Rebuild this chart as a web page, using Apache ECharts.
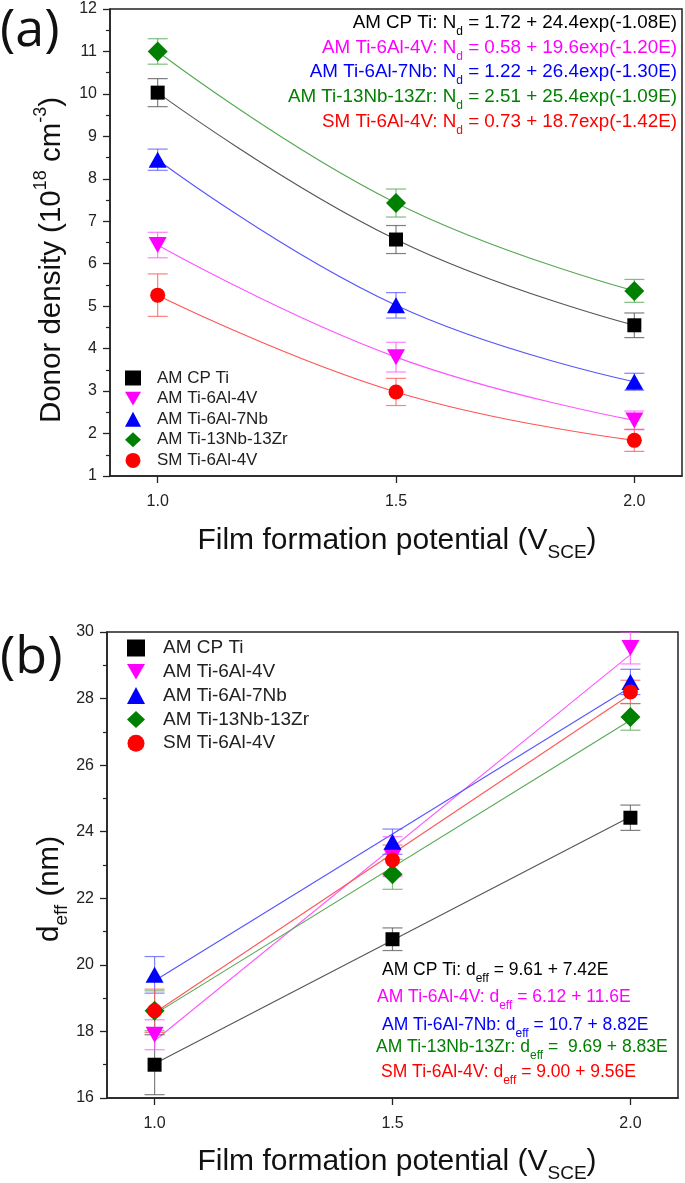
<!DOCTYPE html>
<html>
<head>
<meta charset="utf-8">
<script src="https://cdn.jsdelivr.net/npm/echarts@6/dist/echarts.min.js"></script>
<style>
html,body{margin:0;padding:0;background:#fff;}
#chart{width:685px;height:1183px;}
</style>
</head>
<body>
<div id="chart"></div>
<script>
// ---------- data ----------
const potentials = [1.0, 1.5, 2.0];
const xTickValues = [1.0, 1.5, 2.0];
const seriesNames = ['AM CP Ti', 'AM Ti-6Al-4V', 'AM Ti-6Al-7Nb', 'AM Ti-13Nb-13Zr', 'SM Ti-6Al-4V'];

// (a) donor density (10^18 cm^-3)
const donorCP   = [10.03, 6.57, 4.55];
const donor4V   = [6.44, 3.80, 2.31];
const donor7Nb  = [8.45, 5.02, 3.22];
const donorZr   = [11.00, 7.43, 5.36];
const donorSM   = [5.26, 2.98, 1.84];
const donorErrCP  = [0.33, 0.33, 0.29];
const donorErr4V  = [0.30, 0.35, 0.22];
const donorErr7Nb = [0.25, 0.30, 0.20];
const donorErrZr  = [0.30, 0.33, 0.27];
const donorErrSM  = [0.50, 0.32, 0.26];
const donorTicks = [1, 12];

// (b) d_eff (nm)
const deffCP  = [17.00, 20.77, 24.42];
const deff4V  = [17.90, 23.25, 29.52];
const deff7Nb = [19.70, 23.70, 28.50];
const deffZr  = [18.62, 22.72, 27.45];
const deffSM  = [18.62, 23.15, 28.20];
const deffErrCP  = [0.90, 0.34, 0.38];
const deffErr4V  = [0.45, 0.60, 0.48];
const deffErr7Nb = [0.55, 0.38, 0.38];
const deffErrZr  = [0.60, 0.45, 0.40];
const deffErrSM  = [0.65, 0.45, 0.35];
// linear fit lines read at E = 1.0 and E = 2.0
const fitEnds = [1.0, 2.0];
const deffFitCP  = [17.03, 24.45];
const deffFit4V  = [17.72, 29.32];
const deffFit7Nb = [19.52, 28.34];
const deffFitZr  = [18.52, 27.35];
const deffFitSM  = [18.56, 28.12];
const deffTicks = [16, 30];

// equation texts
const donorEq = [
  ['AM CP Ti: N', 'd', ' = 1.72 + 24.4exp(-1.08E)'],
  ['AM Ti-6Al-4V: N', 'd', ' = 0.58 + 19.6exp(-1.20E)'],
  ['AM Ti-6Al-7Nb: N', 'd', ' = 1.22 + 26.4exp(-1.30E)'],
  ['AM Ti-13Nb-13Zr: N', 'd', ' = 2.51 + 25.4exp(-1.09E)'],
  ['SM Ti-6Al-4V: N', 'd', ' = 0.73 + 18.7exp(-1.42E)']
];
const deffEq = [
  ['AM CP Ti: d', 'eff', ' = 9.61 + 7.42E'],
  ['AM Ti-6Al-4V: d', 'eff', ' = 6.12 + 11.6E'],
  ['AM Ti-6Al-7Nb: d', 'eff', ' = 10.7 + 8.82E'],
  ['AM Ti-13Nb-13Zr: d', 'eff', ' =  9.69 + 8.83E'],
  ['SM Ti-6Al-4V: d', 'eff', ' = 9.00 + 9.56E']
];

// ---------- styles ----------
const colors = ['#000000', '#ff00ff', '#0000ff', '#008000', '#ff0000'];
const lineColors = ['#555555', '#ff55ff', '#5555ff', '#55a855', '#ff5555'];
const downTri = 'path://M0,0L20,0L10,17.3Z';
const symbols = ['rect', downTri, 'triangle', 'diamond', 'circle'];
const symbolSizes = [14, [18, 16], [18, 16], [20, 20], 15];
const FONT = '"Liberation Sans", Arial, sans-serif';

const donorVals = [donorCP, donor4V, donor7Nb, donorZr, donorSM];
const donorErrs = [donorErrCP, donorErr4V, donorErr7Nb, donorErrZr, donorErrSM];
const deffVals = [deffCP, deff4V, deff7Nb, deffZr, deffSM];
const deffErrs = [deffErrCP, deffErr4V, deffErr7Nb, deffErrZr, deffErrSM];
const deffFits = [deffFitCP, deffFit4V, deffFit7Nb, deffFitZr, deffFitSM];

function xAxisCfg(gi) {
  return {
    type: 'value', gridIndex: gi, min: 0.9, max: 2.1,
    axisLine: {show: true, onZero: false, lineStyle: {color: '#222', width: 1.5}},
    axisTick: {show: true, customValues: xTickValues, length: 7, lineStyle: {color: '#222', width: 1.3}},
    axisLabel: {customValues: xTickValues, formatter: v => v.toFixed(1), fontSize: 16, color: '#222', margin: 18, fontFamily: FONT},
    splitLine: {show: false}
  };
}
function yAxisCfg(gi, mn, mx, step) {
  return {
    type: 'value', gridIndex: gi, min: mn, max: mx, interval: step,
    axisLine: {show: true, onZero: false, lineStyle: {color: '#222', width: 1.5}},
    axisTick: {show: true, length: 7, lineStyle: {color: '#222', width: 1.3}},
    minorTick: {show: true, splitNumber: 2, length: 4, lineStyle: {color: '#222', width: 1.2}},
    axisLabel: {fontSize: 16, color: '#222', margin: 13, fontFamily: FONT},
    splitLine: {show: false}, minorSplitLine: {show: false}
  };
}

function errorSeries(gi, vals, errs, color, name) {
  return {
    type: 'custom', name: name + ' err', xAxisIndex: gi, yAxisIndex: gi, z: 2, clip: true, silent: true,
    data: potentials.map((x, i) => [x, vals[i] - errs[i], vals[i] + errs[i]]),
    encode: {x: 0, y: [1, 2]},
    renderItem: function (params, api) {
      const x = api.value(0);
      const lo = api.coord([x, api.value(1)]);
      const hi = api.coord([x, api.value(2)]);
      const hw = 10;
      const st = {stroke: color, lineWidth: 1.2, opacity: 0.75};
      return {type: 'group', children: [
        {type: 'line', shape: {x1: lo[0], y1: lo[1], x2: hi[0], y2: hi[1]}, style: st},
        {type: 'line', shape: {x1: lo[0] - hw, y1: lo[1], x2: lo[0] + hw, y2: lo[1]}, style: st},
        {type: 'line', shape: {x1: hi[0] - hw, y1: hi[1], x2: hi[0] + hw, y2: hi[1]}, style: st}
      ]};
    }
  };
}

const series = [];
for (let k = 0; k < 5; k++) {
  // (a)
  series.push({
    type: 'line', name: seriesNames[k] + ' fit a', xAxisIndex: 0, yAxisIndex: 0, z: 1, silent: true,
    smooth: 0.45, symbol: 'none', lineStyle: {color: lineColors[k], width: 1.1},
    data: potentials.map((x, i) => [x, donorVals[k][i]])
  });
  series.push(errorSeries(0, donorVals[k], donorErrs[k], lineColors[k], seriesNames[k] + 'a'));
  series.push({
    type: 'scatter', name: seriesNames[k], xAxisIndex: 0, yAxisIndex: 0, z: 3,
    symbol: symbols[k], symbolSize: symbolSizes[k], itemStyle: {color: colors[k], opacity: 1},
    data: potentials.map((x, i) => [x, donorVals[k][i]])
  });
  // (b)
  series.push({
    type: 'line', name: seriesNames[k] + ' fit b', xAxisIndex: 1, yAxisIndex: 1, z: 1, silent: true,
    symbol: 'none', lineStyle: {color: lineColors[k], width: 1.1},
    data: fitEnds.map((x, i) => [x, deffFits[k][i]])
  });
  series.push(errorSeries(1, deffVals[k], deffErrs[k], lineColors[k], seriesNames[k] + 'b'));
  series.push({
    type: 'scatter', name: seriesNames[k], xAxisIndex: 1, yAxisIndex: 1, z: 3,
    symbol: symbols[k], symbolSize: symbolSizes[k], itemStyle: {color: colors[k], opacity: 1},
    data: potentials.map((x, i) => [x, deffVals[k][i]])
  });
}

function eqText(parts, color, x, y, align, fs) {
  return {
    type: 'text', x: x, y: y, z: 10,
    style: {
      text: '{n|' + parts[0] + '}{s|' + parts[1] + '}{n|' + parts[2] + '}',
      fill: color, textAlign: align, textVerticalAlign: 'middle',
      rich: {
        n: {fontSize: fs, fontFamily: FONT, lineHeight: 30, fill: color, verticalAlign: 'middle'},
        s: {fontSize: 12, fontFamily: FONT, lineHeight: 13, fill: color, verticalAlign: 'bottom'}
      }
    }
  };
}

const graphics = [];
const topEqY = [23, 48, 72, 97, 122];
donorEq.forEach((p, i) => graphics.push(eqText(p, colors[i], 677, topEqY[i], 'right', 18.8)));
const botEqY = [970, 997, 1025, 1047, 1072];
const botEqX = [382, 377, 382, 376, 381];
deffEq.forEach((p, i) => graphics.push(eqText(p, colors[i], botEqX[i], botEqY[i], 'left', 17.5)));

// panel labels
graphics.push({type: 'text', x: 0, y: 31, style: {text: '(a)', font: '52px "Open Sans", "DejaVu Sans", sans-serif', fill: '#111', textVerticalAlign: 'middle'}});
graphics.push({type: 'text', x: 0, y: 658, style: {text: '(b)', font: '52px "Open Sans", "DejaVu Sans", sans-serif', fill: '#111', textVerticalAlign: 'middle'}});

// axis titles
function xTitle(y) {
  return {type: 'text', x: 397, y: y, style: {
    text: '{n|Film formation potential (V}{s|SCE}{n|)}', textAlign: 'center', textVerticalAlign: 'middle',
    rich: {
      n: {fontSize: 30, fontFamily: FONT, lineHeight: 42, fill: '#111', verticalAlign: 'middle'},
      s: {fontSize: 19, fontFamily: FONT, lineHeight: 19, fill: '#111', verticalAlign: 'bottom'}
    }}};
}
graphics.push(xTitle(541));
graphics.push(xTitle(1162));
graphics.push({type: 'text', x: 52, y: 260, rotation: Math.PI / 2, style: {
  text: '{n|Donor density (10}{p|18}{n| cm}{p|-3}{n|)}', textAlign: 'center', textVerticalAlign: 'middle',
  rich: {
    n: {fontSize: 29.5, fontFamily: FONT, lineHeight: 40, fill: '#111', verticalAlign: 'middle'},
    p: {fontSize: 18, fontFamily: FONT, lineHeight: 17, fill: '#111', verticalAlign: 'top'}
  }}});
graphics.push({type: 'text', x: 50, y: 889, rotation: Math.PI / 2, style: {
  text: '{n|d}{s|eff}{n| (nm)}', textAlign: 'center', textVerticalAlign: 'middle',
  rich: {
    n: {fontSize: 29.5, fontFamily: FONT, lineHeight: 42, fill: '#111', verticalAlign: 'middle'},
    s: {fontSize: 19, fontFamily: FONT, lineHeight: 19, fill: '#111', verticalAlign: 'bottom'}
  }}});

const chart = echarts.init(document.getElementById('chart'), null, {renderer: 'canvas'});
chart.setOption({
  backgroundColor: '#ffffff',
  animation: false,
  grid: [
    {left: 110, top: 9, width: 572, height: 467, show: true, borderColor: '#222', borderWidth: 1.5, backgroundColor: 'transparent', outerBoundsMode: 'none', containLabel: false},
    {left: 107, top: 632, width: 571, height: 466, show: true, borderColor: '#222', borderWidth: 1.5, backgroundColor: 'transparent', outerBoundsMode: 'none', containLabel: false}
  ],
  xAxis: [xAxisCfg(0), xAxisCfg(1)],
  yAxis: [yAxisCfg(0, donorTicks[0], donorTicks[1], 1), yAxisCfg(1, deffTicks[0], deffTicks[1], 2)],
  legend: [
    {data: seriesNames, orient: 'vertical', left: 125, top: 369.5, padding: 0, itemWidth: 16, itemHeight: 15, itemGap: 3.6,
     textStyle: {fontSize: 17, lineHeight: 15, color: '#222', fontFamily: FONT, padding: [0, 0, 0, 11]}, selectedMode: false},
    {data: seriesNames, orient: 'vertical', left: 127, top: 638.5, padding: 0, itemWidth: 18, itemHeight: 17, itemGap: 4.8,
     textStyle: {fontSize: 19, lineHeight: 17, color: '#222', fontFamily: FONT, padding: [0, 0, 0, 13]}, selectedMode: false}
  ],
  graphic: graphics,
  series: series
});
</script>
</body>
</html>
